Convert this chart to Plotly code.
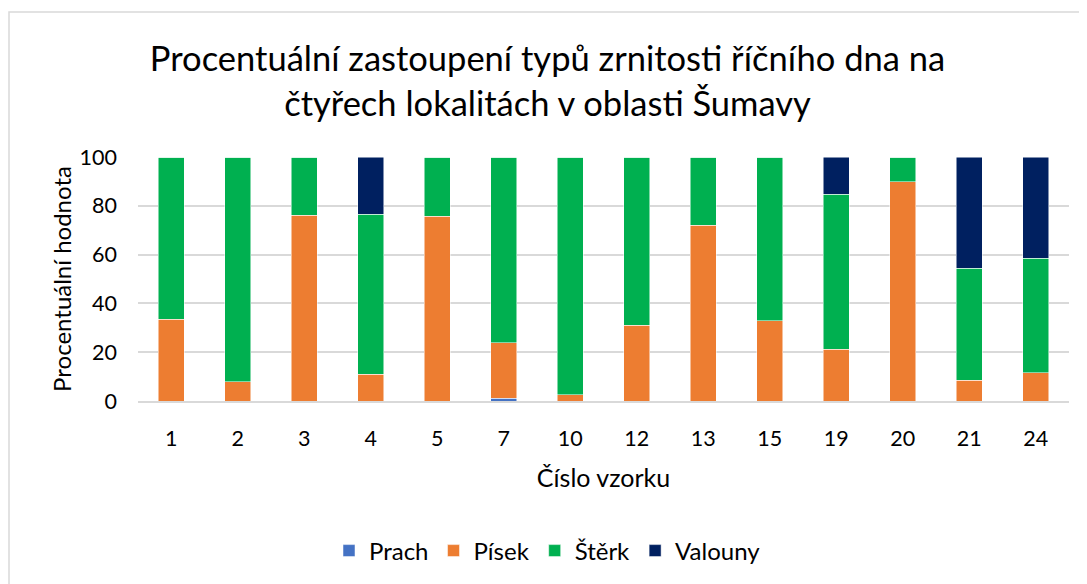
import plotly.graph_objects as go

# sample numbers (x axis categories)
samples = ["1", "2", "3", "4", "5", "7", "10", "12", "13", "15", "19", "20", "21", "24"]

# percentage of each grain type per sample
prach = [0, 0, 0, 0, 0, 1.2, 0, 0, 0, 0, 0, 0, 0, 0]
pisek = [33.6, 7.8, 76.2, 11.0, 75.8, 22.6, 2.5, 31.1, 72.1, 32.8, 21.3, 89.8, 8.6, 11.5]
sterk = [66.4, 92.2, 23.8, 65.6, 24.2, 76.2, 97.5, 68.9, 27.9, 67.2, 63.5, 10.2, 45.9, 47.1]
valouny = [0, 0, 0, 23.4, 0, 0, 0, 0, 0, 0, 15.2, 0, 45.5, 41.4]

series = [
    ("Prach", prach, "#4472C4"),
    ("Písek", pisek, "#ED7D31"),
    ("Štěrk", sterk, "#00B050"),
    ("Valouny", valouny, "#002060"),
]

font_family = "Lato, 'Open Sans', sans-serif"

# page body has an 8px margin, so the figure is a bit smaller than the window
W, H = 1079, 576

fig = go.Figure()
for name, values, color in series:
    fig.add_trace(
        go.Bar(
            x=samples,
            y=values,
            name=name,
            marker=dict(color=color, line=dict(color="white", width=0.5)),
        )
    )

fig.update_layout(
    barmode="stack",
    bargap=0.61,
    width=W,
    height=H,
    margin=dict(l=130, r=18, t=149, b=183),
    paper_bgcolor="white",
    plot_bgcolor="white",
    font=dict(family=font_family, color="#000000", size=21),
    title=dict(
        text="Procentuální zastoupení typů zrnitosti říčního dna na<br>čtyřech lokalitách v oblasti Šumavy",
        x=0.5,
        xanchor="center",
        xref="container",
        y=1 - 63 / H,
        yref="container",
        yanchor="middle",
        font=dict(family=font_family, size=34.5, color="#000000"),
    ),
    legend=dict(
        orientation="h",
        x=0.5,
        xanchor="center",
        xref="container",
        y=1 - 543 / H,
        yref="container",
        yanchor="middle",
        font=dict(size=24),
        traceorder="normal",
    ),
)

fig.update_xaxes(
    type="category",
    title=dict(text="Číslo vzorku", font=dict(size=25), standoff=20),
    showgrid=False,
    showline=True,
    linecolor="#D9D9D9",
    linewidth=1.5,
    ticks="",
    ticklabelstandoff=17,
    tickfont=dict(size=21.5),
)

fig.update_yaxes(
    range=[0, 100],
    dtick=20,
    title=dict(text="Procentuální hodnota", font=dict(size=24), standoff=1),
    showgrid=True,
    gridcolor="#D9D9D9",
    gridwidth=1.5,
    zeroline=False,
    ticks="",
    ticklabelstandoff=20,
    tickfont=dict(size=21.5),
)

# light chart-area border like the original
fig.add_shape(
    type="rect",
    xref="paper",
    yref="paper",
    x0=(1 - 130) / 931,
    x1=(1100 - 130) / 931,
    y0=(393 - 600) / 244,
    y1=(393 - 4) / 244,
    line=dict(color="#D9D9D9", width=1.5),
    fillcolor="rgba(0,0,0,0)",
    layer="below",
)

fig.write_html("out.html")
